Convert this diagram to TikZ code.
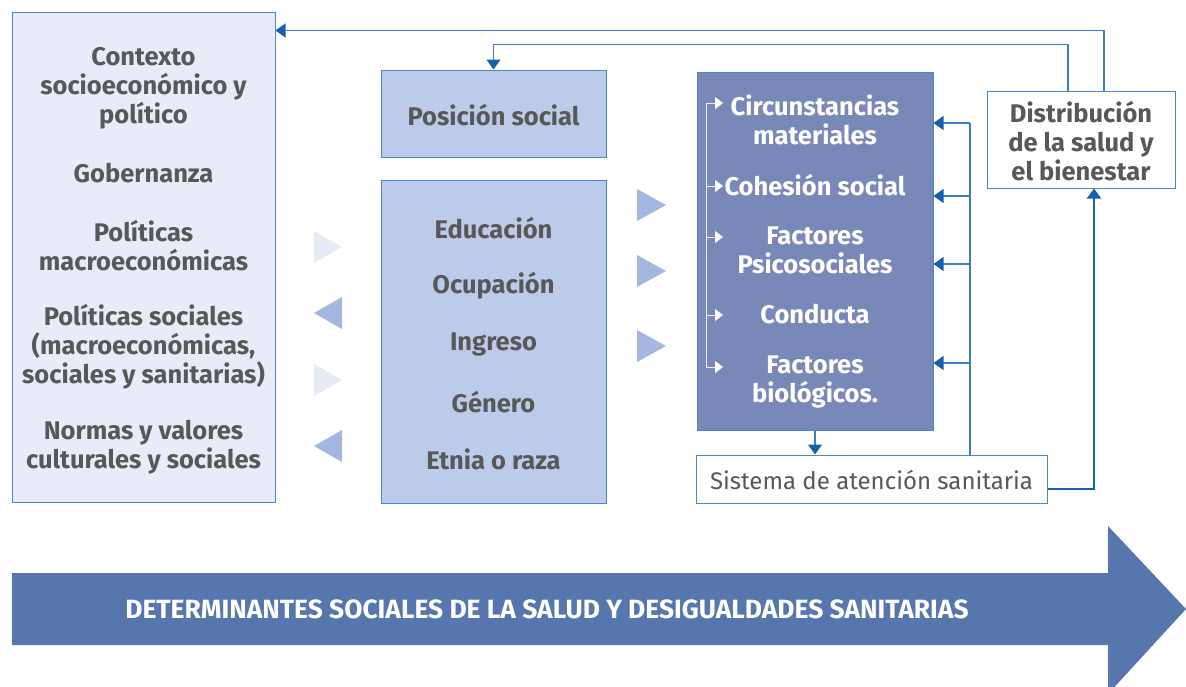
\documentclass[tikz,border=0pt]{standalone}
\usepackage{fontspec}
\setmainfont{Fira Sans}
\usetikzlibrary{arrows.meta}
\definecolor{lbox}{HTML}{E8ECF8}
\definecolor{mbox}{HTML}{BCCBEA}
\definecolor{dbox}{HTML}{7889B9}
\definecolor{bord}{HTML}{4A86C5}
\definecolor{conn}{HTML}{3A7DC8}
\definecolor{tipc}{HTML}{1560AC}
\definecolor{txtg}{HTML}{585858}
\definecolor{bigar}{HTML}{5676AE}
\definecolor{trilight}{HTML}{E6EAF7}
\definecolor{trimed}{HTML}{A3B7E0}
\definecolor{wline}{HTML}{EEF0F6}
\begin{document}
\begin{tikzpicture}[x=1pt,y=-1pt,
  boxbase/.style={draw=bord,line width=1pt,inner sep=0pt},
  lboxst/.style={boxbase,fill=lbox},
  mboxst/.style={boxbase,fill=mbox},
  dboxst/.style={boxbase,fill=dbox},
  wboxst/.style={boxbase,fill=white},
  gtxt/.style={font=\fontsize{25.5}{29}\selectfont\bfseries,text=txtg,align=center,inner sep=0pt},
  wtxt/.style={font=\fontsize{25.5}{29}\selectfont\bfseries,text=white,align=center,inner sep=0pt},
  connline/.style={draw=conn,line width=1.2pt},
  conar/.style={connline,-{Triangle[length=10pt,width=14pt,color=tipc]}},
  warr/.style={draw=wline,line width=1pt,-{Triangle[length=8pt,width=12pt,color=white]}},
]
\useasboundingbox (0,0) rectangle (1186,686);

% big arrow
\fill[bigar] (12,573) -- (1108,573) -- (1108,526) -- (1186,609) -- (1108,694) -- (1108,645) -- (12,645) -- cycle;
\node[font=\fontsize{26.4}{28}\selectfont\bfseries,text=white,inner sep=0pt] (bigtxt) at (547,609) {DETERMINANTES SOCIALES DE LA SALUD Y DESIGUALDADES SANITARIAS};

% boxes
\node[lboxst,minimum width=263pt,minimum height=490pt] (ctx) at (143.5,257) {};
\node[mboxst,minimum width=225pt,minimum height=87pt] (pos) at (493.5,113.5) {};
\node[mboxst,minimum width=225pt,minimum height=323pt] (edu) at (493.5,341.5) {};
\node[dboxst,minimum width=236pt,minimum height=358pt] (dark) at (815,251) {};
\node[wboxst,minimum width=351pt,minimum height=48pt] (sis) at (871.5,479) {};
\node[wboxst,minimum width=188pt,minimum height=97pt] (dist) at (1081,139.5) {};

% left texts
\node[gtxt] (t1) at (143.5,88.5) {Contexto\\socioeconómico y\\político};
\node[gtxt] (t2) at (143.5,173) {Gobernanza};
\node[gtxt] (t3) at (143.5,245.5) {Políticas\\macroeconómicas};
\node[gtxt] (t4) at (143.5,347) {Políticas sociales\\(macroeconómicas,\\sociales y sanitarias)};
\node[gtxt] (t5) at (143.5,447.5) {Normas y valores\\culturales y sociales};

% middle texts
\node[gtxt] (p1) at (493.5,115) {Posición social};
\node[gtxt] (e1) at (493.5,228) {Educación};
\node[gtxt] (e2) at (493.5,286) {Ocupación};
\node[gtxt] (e3) at (493.5,344) {Ingreso};
\node[gtxt] (e4) at (493.5,402) {Género};
\node[gtxt] (e5) at (493.5,459) {Etnia o raza};

% dark box texts
\node[wtxt] (d1) at (815,119.5) {Circunstancias\\materiales};
\node[wtxt] (d2) at (815,185) {Cohesión social};
\node[wtxt] (d3) at (815,250.5) {Factores\\Psicosociales};
\node[wtxt] (d4) at (815,314) {Conducta};
\node[wtxt] (d5) at (815,381.5) {Factores\\biológicos.};

% other texts
\node[font=\fontsize{24}{28}\selectfont,text=txtg,inner sep=0pt] (s1) at (871.5,480) {Sistema de atención sanitaria};
\node[gtxt] (di) at (1081,141) {Distribución\\de la salud y\\el bienestar};

% triangles between left and middle
\fill[trilight] (314,231) -- (342,247) -- (314,263) -- cycle;
\fill[trimed] (342,297) -- (314,313) -- (342,329) -- cycle;
\fill[trilight] (314,364) -- (342,380) -- (314,396) -- cycle;
\fill[trimed] (342,430) -- (314,446) -- (342,462) -- cycle;
% triangles between middle and dark
\fill[trimed] (637,189) -- (666,205) -- (637,221) -- cycle;
\fill[trimed] (637,255) -- (666,271) -- (637,287) -- cycle;
\fill[trimed] (637,330) -- (666,346) -- (637,362) -- cycle;

% internal white bracket
\coordinate (w1) at (706,103);
\coordinate (w2) at (706,186);
\coordinate (w3) at (706,237);
\coordinate (w4) at (706,315);
\coordinate (w5) at (706,367);
\draw[draw=wline,line width=1pt] (w1) -- (w5);
\foreach \w in {w1,w2,w3,w4,w5}{
  \draw[warr] (\w) -- ++(17,0);
}

% right bracket to dark box
\coordinate (r1) at (970,123);
\coordinate (r2) at (970,196);
\coordinate (r3) at (970,264);
\coordinate (r4) at (970,363);
\draw[connline] (sis.north -| r1) -- (r1);
\foreach \r in {r1,r2,r3,r4}{
  \draw[conar] (\r) -- (\r -| dark.east);
}

% dark -> sistema
\draw[conar] (dark.south) -- (dark.south |- sis.north);

% sistema -> distribucion
\draw[draw=tipc,line width=2pt,-{Triangle[length=10pt,width=14pt,color=tipc]}] ([yshift=-10pt]sis.east) -| ([xshift=13pt]dist.south);

% distribucion -> context
\draw[conar] ([xshift=23pt]dist.north) |- ([yshift=-19pt]ctx.north east);
% distribucion -> posicion social
\draw[conar] ([xshift=-13pt]dist.north) |- ([yshift=25pt]pos.north) -- (pos.north);
\end{tikzpicture}
\end{document}
